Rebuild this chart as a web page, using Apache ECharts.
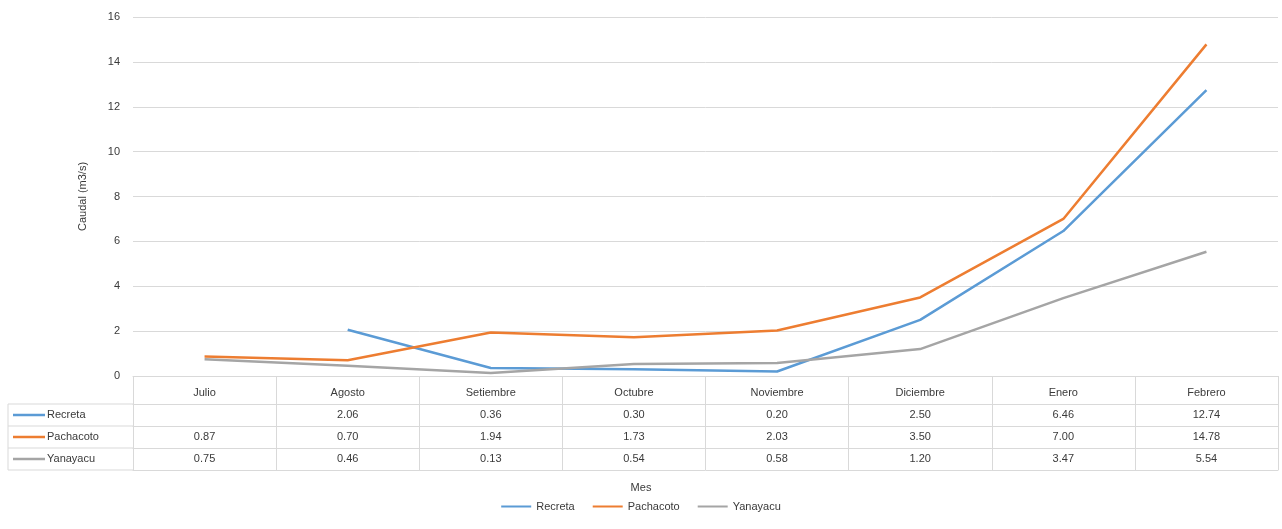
<!DOCTYPE html>
<html>
<head>
<meta charset="utf-8">
<script src="https://cdn.jsdelivr.net/npm/echarts@6/dist/echarts.min.js"></script>
<style>html,body{margin:0;padding:0;background:#fff}#c{width:1282px;height:529px}</style>
</head>
<body>
<div id="c"></div>
<script>
const months = ['Julio','Agosto','Setiembre','Octubre','Noviembre','Diciembre','Enero','Febrero'];
const seriesNames = ['Recreta','Pachacoto','Yanayacu'];
const recreta = [null, 2.06, 0.36, 0.30, 0.20, 2.50, 6.46, 12.74];
const pachacoto = [0.87, 0.70, 1.94, 1.73, 2.03, 3.50, 7.00, 14.78];
const yanayacu = [0.75, 0.46, 0.13, 0.54, 0.58, 1.20, 3.47, 5.54];
const colors = ['#5B9BD5', '#ED7D31', '#A5A5A5'];
const values = [recreta, pachacoto, yanayacu];
const xTitle = 'Mes';
const yTitle = 'Caudal (m3/s)';

const FONT = 'Liberation Sans';
const TXT = '#3a3a3a';
const BORDER = '#d9d9d9';
const rowOffsets = [28, 50, 72];
const tableBottomOffset = 94;
const axisY = 376;

const chart = echarts.init(document.getElementById('c'));

const xAxes = [{
  type: 'category', data: months, position: 'bottom', boundaryGap: true,
  axisLine: { show: true, lineStyle: { color: BORDER, width: 1 } },
  axisTick: { show: true, interval: 0, length: tableBottomOffset, lineStyle: { color: BORDER } },
  axisLabel: { interval: 0, margin: 11, fontFamily: FONT, fontSize: 11, color: TXT }
}];
values.forEach((vals, k) => {
  xAxes.push({
    type: 'category', data: months, position: 'bottom', offset: rowOffsets[k],
    axisLine: { show: true, lineStyle: { color: BORDER, width: 1 } },
    axisTick: { show: false },
    axisLabel: { interval: 0, margin: 5, fontFamily: FONT, fontSize: 11, color: TXT,
      formatter: (v, i) => vals[i] == null ? '' : vals[i].toFixed(2) }
  });
});
xAxes.push({
  type: 'category', data: months, position: 'bottom', offset: tableBottomOffset,
  axisLine: { show: true, lineStyle: { color: BORDER, width: 1 } },
  axisTick: { show: false }, axisLabel: { show: false }
});

const graphics = [];
rowOffsets.concat([tableBottomOffset]).forEach(o => {
  graphics.push({ type: 'line', shape: { x1: 8, y1: axisY + o, x2: 133, y2: axisY + o },
    style: { stroke: BORDER, lineWidth: 1 } });
});
graphics.push({ type: 'line', shape: { x1: 8, y1: axisY + rowOffsets[0], x2: 8, y2: axisY + tableBottomOffset },
  style: { stroke: BORDER, lineWidth: 1 } });
seriesNames.forEach((n, k) => {
  const yc = axisY + rowOffsets[k] + 11;
  graphics.push({ type: 'line', shape: { x1: 13, y1: yc, x2: 45, y2: yc },
    style: { stroke: colors[k], lineWidth: 2.5 } });
  graphics.push({ type: 'text', x: 47, y: yc,
    style: { text: n, fill: TXT, font: '11px "' + FONT + '"', textVerticalAlign: 'middle', textAlign: 'left' } });
});
graphics.push({ type: 'text', x: 641, y: 488,
  style: { text: xTitle, fill: TXT, font: '11px "' + FONT + '"', textVerticalAlign: 'middle', textAlign: 'center' } });

chart.setOption({
  animation: false,
  backgroundColor: '#fff',
  color: colors,
  grid: { left: 133, right: 4, top: 17, bottom: 529 - axisY, containLabel: false },
  xAxis: xAxes,
  yAxis: {
    type: 'value', min: 0, max: 16, interval: 2,
    axisLine: { show: false }, axisTick: { show: false },
    splitLine: { lineStyle: { color: BORDER, width: 1 } },
    axisLabel: { margin: 13, fontFamily: FONT, fontSize: 11, color: TXT },
    name: yTitle, nameLocation: 'middle', nameRotate: 90, nameGap: 45,
    nameTextStyle: { fontFamily: FONT, fontSize: 11, color: TXT }
  },
  legend: {
    data: seriesNames, bottom: 12, left: 'center', itemGap: 18,
    icon: 'rect', itemWidth: 30, itemHeight: 2,
    textStyle: { fontFamily: FONT, fontSize: 11, color: TXT }
  },
  graphic: graphics,
  series: seriesNames.map((n, k) => ({
    name: n, type: 'line', data: values[k], xAxisIndex: 0,
    symbol: 'none', smooth: false, connectNulls: false,
    lineStyle: { width: 2.5, color: colors[k] }
  }))
});
</script>
</body>
</html>
